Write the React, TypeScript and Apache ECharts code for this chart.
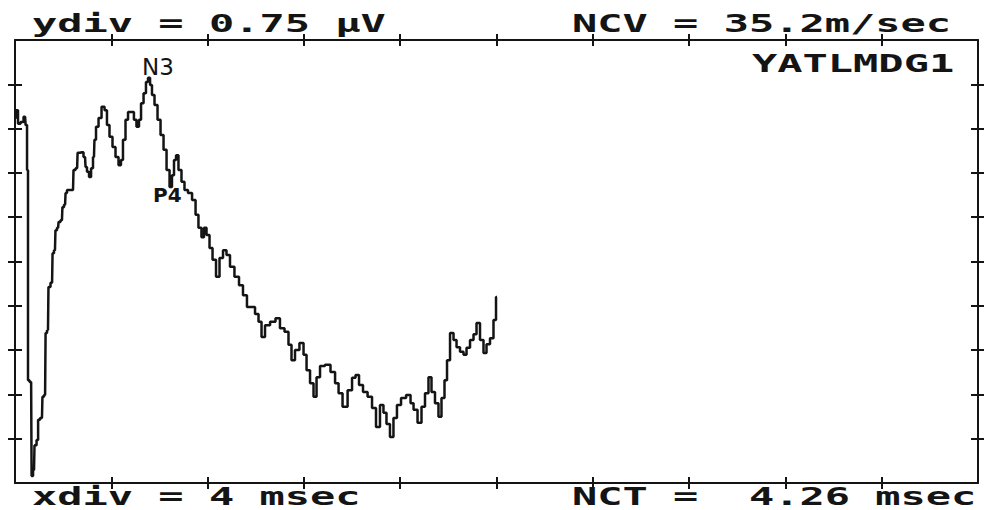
import React, { useEffect, useRef } from "react";
import * as echarts from "echarts";

// time in msec (xdiv = 4 msec), amplitude in µV (ydiv = 0.75 µV)
const timeMs = [
  0.0, 0.08, 0.17, 0.29, 0.42, 0.46, 0.54, 0.54, 0.67, 0.71, 0.79, 0.83, 0.96, 0.96, 1.12, 1.16, 1.25, 1.29, 1.37, 1.41,
  1.54, 1.58, 1.66, 1.7, 1.79, 1.83, 1.95, 1.99, 2.08, 2.12, 2.2, 2.41, 2.45, 2.58, 2.62, 2.78, 2.91, 2.95, 3.03, 3.12,
  3.2, 3.28, 3.32, 3.41, 3.53, 3.66, 3.78, 3.86, 3.99, 4.11, 4.24, 4.36, 4.44, 4.53, 4.65, 4.74, 4.9, 4.98, 5.11, 5.19,
  5.28, 5.4, 5.48, 5.57, 5.65, 5.73, 5.86, 5.98, 6.11, 6.23, 6.36, 6.48, 6.56, 6.65, 6.73, 6.85, 6.98, 7.1, 7.27, 7.44,
  7.56, 7.68, 7.81, 7.89, 8.02, 8.14, 8.27, 8.43, 8.56, 8.72, 8.85, 9.01, 9.22, 9.39, 9.55, 9.72, 9.89, 10.05, 10.18, 10.3,
  10.47, 10.72, 10.92, 11.09, 11.3, 11.42, 11.55, 11.71, 11.92, 12.05, 12.17, 12.34, 12.46, 12.59, 12.75, 13.0, 13.21, 13.38, 13.5, 13.71,
  13.92, 14.08, 14.21, 14.37, 14.54, 14.75, 14.91, 15.08, 15.24, 15.37, 15.49, 15.66, 15.78, 15.95, 16.12, 16.37, 16.49, 16.62, 16.82, 16.95,
  17.11, 17.24, 17.36, 17.53, 17.65, 17.78, 17.9, 17.99, 18.15, 18.28, 18.4, 18.57, 18.69, 18.82, 18.98, 19.11, 19.23, 19.4, 19.52, 19.65,
  19.81, 19.94, 20.02,
];
const amplitudeUV = [
  6.18, 6.31, 6.08, 6.11, 6.2, 6.06, 5.3, 1.74, 1.71, 0.12, 0.22, 0.64, 0.73, 1.07, 1.1, 1.46, 1.49, 2.54, 2.59, 3.32,
  3.39, 3.89, 3.94, 4.28, 4.32, 4.42, 4.45, 4.67, 4.71, 4.91, 4.96, 4.96, 5.3, 5.33, 5.59, 5.6, 5.52, 5.35, 5.27, 5.18,
  5.33, 5.52, 5.81, 6.03, 6.18, 6.37, 6.31, 6.06, 5.86, 5.69, 5.52, 5.38, 5.47, 5.81, 6.15, 6.28, 6.28, 6.15, 6.03, 6.15,
  6.43, 6.6, 6.79, 6.86, 6.74, 6.57, 6.4, 6.15, 5.89, 5.64, 5.3, 5.01, 5.21, 5.47, 5.55, 5.3, 5.1, 4.96, 4.91, 4.79,
  4.54, 4.32, 4.16, 4.32, 4.2, 3.98, 3.78, 3.49, 3.81, 3.94, 3.86, 3.66, 3.49, 3.35, 3.18, 2.98, 2.98, 2.86, 2.73, 2.47,
  2.67, 2.73, 2.79, 2.62, 2.56, 2.34, 2.08, 2.25, 2.37, 2.17, 1.91, 1.69, 1.46, 1.79, 1.98, 2.0, 1.88, 1.69, 1.52, 1.29,
  1.57, 1.78, 1.83, 1.66, 1.54, 1.46, 1.27, 0.95, 1.32, 1.19, 1.0, 0.78, 1.1, 1.32, 1.44, 1.49, 1.35, 1.24, 1.02, 1.29,
  1.52, 1.79, 1.54, 1.35, 1.12, 1.44, 1.74, 2.08, 2.54, 2.42, 2.3, 2.22, 2.17, 2.29, 2.42, 2.52, 2.71, 2.42, 2.2, 2.35,
  2.45, 2.76, 3.15,
];

const xTicks = [4, 8, 12, 16, 20, 24, 28, 32, 36];
const yTicks = [0.75, 1.5, 2.25, 3, 3.75, 4.5, 5.25, 6, 6.75];

const INK = "#141414";
const MONO = 'bold 24px "DejaVu Sans Mono"';

function xAxisDef(position: string, inside: boolean, showLine: boolean) {
  return {
    type: "value",
    position,
    min: 0,
    max: 40,
    axisLine: { show: showLine, onZero: false, lineStyle: { color: INK, width: 2 } },
    axisTick: { show: true, inside, length: 6, customValues: xTicks, lineStyle: { color: INK, width: 2 } },
    axisLabel: { show: false },
    splitLine: { show: false },
  };
}
function yAxisDef(position: string, inside: boolean, showLine: boolean) {
  return {
    type: "value",
    position,
    min: 0,
    max: 7.5,
    axisLine: { show: showLine, onZero: false, lineStyle: { color: INK, width: 2 } },
    axisTick: { show: true, inside, length: 7, customValues: yTicks, lineStyle: { color: INK, width: 2 } },
    axisLabel: { show: false },
    splitLine: { show: false },
  };
}

function monoText(text: string, x: number, y: number) {
  return {
    type: "text",
    x,
    y,
    scaleX: 1.75,
    z: 100,
    style: { text, font: MONO, fill: INK, textAlign: "left", textVerticalAlign: "middle" },
  };
}

export default function App() {
  const ref = useRef<HTMLDivElement>(null);
  useEffect(() => {
    if (!ref.current) return;
    const chart = echarts.init(ref.current, undefined, { renderer: "svg" });
    const data = timeMs.map((t, i) => [t, amplitudeUV[i]]);
    chart.setOption({
      animation: false,
      backgroundColor: "#ffffff",
      grid: { left: 15, top: 40, right: 6, bottom: 27, containLabel: false, outerBoundsMode: "none" },
      xAxis: [
        xAxisDef("bottom", false, true),
        xAxisDef("bottom", true, false),
        xAxisDef("top", false, true),
        xAxisDef("top", true, false),
      ],
      yAxis: [
        yAxisDef("left", false, true),
        yAxisDef("left", true, false),
        yAxisDef("right", false, true),
        yAxisDef("right", true, false),
      ],
      series: [
        {
          type: "line",
          xAxisIndex: 0,
          yAxisIndex: 0,
          data,
          step: "middle",
          showSymbol: false,
          lineStyle: { color: INK, width: 2.5 },
        },
      ],
      graphic: [
        monoText("ydiv = 0.75 µV", 32, 24),
        monoText("NCV = 35.2m/sec", 572, 24),
        monoText("YATLMDG1", 752, 64),
        monoText("xdiv = 4 msec", 32, 497),
        monoText("NCT =  4.26 msec", 572, 497),
        {
          type: "text",
          x: 142,
          y: 67,
          z: 100,
          style: { text: "N3", font: '23px "DejaVu Sans"', fill: INK, textAlign: "left", textVerticalAlign: "middle" },
        },
        {
          type: "text",
          x: 153,
          y: 195,
          z: 100,
          style: { text: "P4", font: 'bold 20px "DejaVu Sans"', fill: INK, textAlign: "left", textVerticalAlign: "middle" },
        },
      ],
    });
    return () => chart.dispose();
  }, []);
  return (
    <div
      ref={ref}
      style={{ position: "fixed", left: 0, top: 0, width: 984, height: 510, background: "#fff" }}
    />
  );
}
